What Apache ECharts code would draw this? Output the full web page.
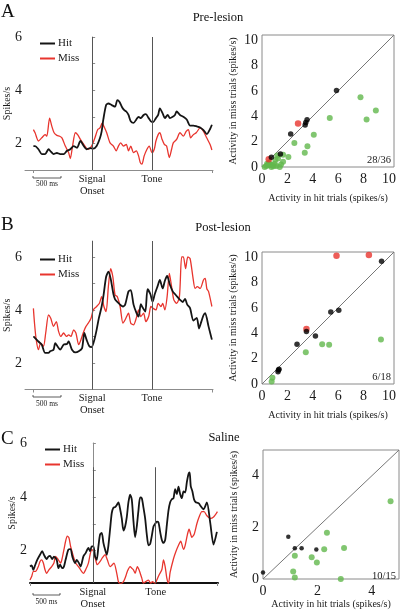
<!DOCTYPE html>
<html><head><meta charset="utf-8">
<script src="https://cdn.jsdelivr.net/npm/echarts@6/dist/echarts.min.js"></script>
<style>html,body{margin:0;padding:0;background:#fff}#c{width:400px;height:610px}</style>
</head><body><div id="c"></div>
<script>
// ---------- time-course data: [time (ms from signal onset), spikes/s] ----------
const aHit = [[-1050,1.9],[-1020,1.9],[-960,1.78],[-900,1.6],[-840,1.6],[-780,1.78],[-750,1.72],[-690,1.6],[-630,1.64],[-570,1.6],[-510,1.6],[-450,1.72],[-390,1.78],[-330,1.9],[-270,1.84],[-210,2.09],[-150,1.9],[-100,1.78],[-40,1.82],[20,1.8],[80,1.9],[140,2.2],[170,2.45],[200,2.9],[250,3.44],[290,3.5],[350,3.44],[410,3.38],[450,3.63],[490,3.56],[530,3.38],[570,3.26],[610,3.2],[650,3.07],[690,2.83],[740,2.77],[790,2.9],[830,3.0],[870,2.95],[920,3.07],[960,3.1],[1010,2.95],[1050,2.83],[1090,2.8],[1140,2.95],[1180,3.07],[1210,3.32],[1260,3.13],[1300,2.95],[1350,3.07],[1390,2.95],[1440,3.0],[1480,3.07],[1510,3.2],[1570,3.07],[1630,3.0],[1690,2.9],[1750,2.67],[1810,2.67],[1870,2.64],[1930,2.6],[1990,2.5],[2050,2.35],[2110,2.55],[2140,2.7]];
const aMiss = [[-1050,2.52],[-1020,2.4],[-960,2.09],[-900,2.21],[-840,2.33],[-810,2.27],[-760,2.95],[-720,2.64],[-680,2.4],[-630,2.3],[-580,2.27],[-540,2.21],[-480,1.9],[-420,1.65],[-390,1.43],[-350,1.9],[-300,2.4],[-260,2.33],[-210,2.15],[-150,1.96],[-110,1.84],[-70,1.78],[-10,1.9],[50,2.21],[100,2.52],[140,2.58],[180,2.77],[210,2.64],[260,2.4],[320,2.02],[380,1.9],[430,1.72],[470,1.9],[510,2.02],[560,1.9],[610,1.96],[650,1.72],[690,1.9],[740,1.65],[790,1.72],[830,1.53],[860,1.28],[890,1.22],[930,1.53],[980,1.78],[1020,1.9],[1070,1.65],[1110,1.78],[1140,2.09],[1180,2.33],[1210,2.4],[1250,2.15],[1290,1.96],[1330,1.9],[1380,1.47],[1420,1.78],[1450,2.02],[1510,2.15],[1570,2.4],[1630,2.27],[1680,2.45],[1720,2.52],[1760,2.21],[1810,2.33],[1860,2.4],[1930,2.58],[1990,2.45],[2050,2.2],[2110,1.95],[2140,1.75]];

const bHit = [[-1050,3.0],[-1020,2.94],[-960,2.81],[-900,2.69],[-840,2.38],[-780,2.38],[-750,2.44],[-690,2.5],[-660,2.75],[-620,2.63],[-570,2.5],[-510,2.69],[-450,2.72],[-420,2.81],[-360,2.5],[-300,2.4],[-240,2.44],[-180,2.56],[-140,3.13],[-100,2.88],[-50,2.63],[-10,2.6],[40,2.88],[80,3.25],[120,3.69],[170,4.13],[200,4.5],[250,5.25],[290,5.44],[330,5.19],[380,4.6],[410,4.4],[450,4.3],[500,4.2],[550,4.13],[590,4.2],[650,4.7],[690,4.75],[740,4.2],[790,3.9],[830,3.75],[870,4.22],[900,4.1],[950,3.94],[990,4.78],[1040,4.6],[1080,4.31],[1120,4.6],[1170,4.9],[1210,5.13],[1260,4.81],[1300,5.1],[1340,5.28],[1390,4.95],[1440,4.7],[1480,4.6],[1520,4.5],[1570,4.38],[1620,4.3],[1660,4.42],[1700,4.2],[1750,4.07],[1810,3.6],[1870,3.7],[1910,3.3],[1950,3.55],[1990,3.8],[2020,3.88],[2080,3.38],[2140,2.88]];
const bMiss = [[-1050,4.06],[-1030,3.5],[-1000,2.88],[-960,2.5],[-920,2.75],[-870,2.63],[-830,3.13],[-780,3.81],[-740,3.69],[-690,3.38],[-640,3.56],[-600,3.19],[-560,3.0],[-510,3.13],[-460,3.0],[-420,3.06],[-380,3.0],[-330,3.25],[-290,3.13],[-240,2.69],[-200,2.88],[-150,3.19],[-110,3.38],[-70,3.5],[-20,3.69],[20,4.0],[80,4.13],[130,4.25],[170,4.5],[210,4.13],[250,3.94],[290,4.88],[330,5.56],[370,5.25],[410,4.56],[450,4.5],[500,4.13],[550,3.5],[590,3.63],[650,3.88],[690,3.5],[740,3.44],[790,3.7],[830,4.0],[870,3.75],[920,3.88],[960,3.56],[1010,3.75],[1050,4.13],[1090,4.06],[1140,4.0],[1180,4.25],[1230,4.13],[1260,4.25],[1300,4.0],[1340,4.5],[1380,5.38],[1420,4.88],[1460,4.38],[1510,4.25],[1560,4.5],[1600,6.0],[1630,6.0],[1670,5.56],[1710,6.0],[1750,5.94],[1800,5.25],[1840,4.81],[1880,4.88],[1930,4.81],[1990,5.13],[2020,5.19],[2050,4.8],[2080,4.7],[2140,4.13]];

const cHit = [[-1130,1.41],[-1100,1.45],[-1070,1.29],[-1040,1.45],[-1000,1.66],[-950,1.85],[-910,1.98],[-880,1.85],[-830,1.69],[-800,1.78],[-770,1.81],[-730,1.69],[-700,1.78],[-650,1.66],[-620,1.35],[-590,1.48],[-550,1.35],[-520,1.41],[-490,1.66],[-440,2.04],[-400,2.06],[-370,1.79],[-320,1.54],[-290,1.66],[-250,1.54],[-220,1.41],[-170,1.79],[-130,1.91],[-80,2.1],[-50,1.98],[-20,2.16],[10,2.16],[40,1.79],[70,1.66],[100,2.16],[130,2.6],[160,2.66],[190,2.29],[220,2.04],[250,1.85],[280,2.2],[310,2.8],[340,3.4],[370,3.6],[400,3.62],[430,3.7],[460,3.79],[490,3.55],[520,3.2],[550,2.75],[580,2.9],[610,3.25],[640,3.8],[670,4.08],[700,3.9],[730,3.1],[760,2.5],[790,2.9],[820,3.5],[850,3.98],[880,3.95],[910,3.6],[940,3.2],[970,2.6],[1000,2.2],[1030,2.25],[1060,2.55],[1090,2.9],[1120,3.0],[1150,3.08],[1180,3.05],[1210,2.7],[1240,2.4],[1270,2.29],[1300,2.4],[1330,2.95],[1360,3.5],[1390,3.8],[1420,3.91],[1450,3.95],[1480,4.29],[1510,4.1],[1540,4.38],[1570,4.1],[1600,3.95],[1630,4.2],[1660,4.16],[1690,4.55],[1720,4.85],[1740,4.91],[1760,4.4],[1790,4.2],[1820,3.9],[1850,3.8],[1880,3.78],[1910,3.75],[1930,3.68],[1990,3.54],[2050,3.79],[2110,3.04],[2170,2.23],[2230,2.7]];
const cMiss = [[-1130,0.91],[-1100,1.04],[-1070,1.23],[-1030,1.23],[-980,1.41],[-950,1.6],[-920,1.66],[-890,1.54],[-860,1.29],[-830,1.16],[-790,1.29],[-740,1.41],[-700,1.54],[-670,1.79],[-620,1.66],[-580,1.54],[-550,1.73],[-520,2.04],[-490,2.35],[-460,2.54],[-430,2.48],[-400,2.16],[-350,1.79],[-310,1.54],[-260,1.41],[-220,1.29],[-170,1.16],[-130,1.29],[-80,1.54],[-50,1.85],[-20,2.04],[10,1.98],[50,1.66],[80,1.48],[130,1.6],[170,1.73],[220,1.85],[260,1.66],[310,1.41],[350,1.48],[380,1.54],[430,1.16],[460,0.85],[500,0.78],[550,0.85],[590,1.04],[620,1.23],[670,1.41],[700,1.35],[730,1.29],[760,1.16],[800,1.41],[830,1.29],[880,0.98],[910,0.79],[950,0.85],[1000,0.91],[1040,0.79],[1070,0.85],[1120,0.79],[1150,0.91],[1190,1.1],[1240,1.29],[1270,1.66],[1300,1.41],[1330,0.98],[1360,0.79],[1390,1.2],[1450,1.7],[1490,1.95],[1540,2.2],[1580,2.35],[1630,2.05],[1660,2.2],[1700,2.6],[1730,2.8],[1780,2.5],[1820,2.6],[1870,3.0],[1910,3.25],[1960,3.45],[2000,3.45],[2050,3.3],[2110,3.2],[2170,3.25],[2240,3.45]];

// event times (ms from signal onset)
const toneAB = 1070;
const toneC = 1130;

// ---------- scatter data: [activity in hit trials, activity in miss trials] ----------
const aBlack = [[5.87,6.02],[3.55,3.72],[3.45,3.5],[3.4,3.3],[2.26,2.6],[1.45,1.02],[0.74,0.76]];
const aRed = [[2.84,3.42],[0.53,0.62]];
const aGreen = [[7.76,5.5],[8.97,4.45],[8.24,3.74],[5.34,3.87],[4.08,2.55],[3.58,1.63],[3.37,1.13],[2.55,1.9],[2.08,0.79],[1.66,0.97],[1.66,0.42],[1.26,0.66],[1.13,0.08],[1.4,0.0],[0.74,0.0],[0.47,0.13],[0.21,0.0],[1.0,0.26],[0.6,0.2],[0.34,0.08],[0.9,0.05],[1.2,0.9],[0.55,0.35],[0.8,0.15],[1.5,0.2],[0.4,0.25],[1.05,0.55]];
const bBlack = [[9.42,9.68],[6.05,5.82],[5.42,5.68],[4.21,3.79],[3.5,4.13],[2.76,3.13],[1.34,1.16],[1.26,0.97],[1.3,1.1]];
const bRed = [[5.87,10.1],[8.42,10.16],[3.5,4.34]];
const bGreen = [[3.45,2.5],[4.74,3.13],[5.29,3.1],[9.37,3.5],[0.82,0.5],[0.76,0.2]];
const cBlack = [[0,0.25],[0.93,1.64],[1.17,1.19],[1.42,1.19],[1.96,1.14]];
const cRed = [];
const cGreen = [[4.69,3.01],[2.35,1.79],[2.98,1.2],[2.25,1.15],[1.79,0.84],[1.98,0.64],[1.17,0.9],[1.11,0.29],[1.17,0.06],[2.86,0]];

const counts = ['28/36','6/18','10/15'];
const titles = ['Pre-lesion','Post-lesion','Saline'];
const letters = ['A','B','C'];
const scatterMax = [10.4, 10.4, 5];
const scatterTicks = [[0,2,4,6,8,10],[0,2,4,6,8,10],[0,2,4]];

// ---------- layout ----------
const F = '"Liberation Serif","DejaVu Serif",serif';
const TXT = '#1a1a1a';
const BLACK = '#151515', RED = '#e8352e', GREEN = '#62b84c';

const leftGrids = [
  {left:25, top:37, width:188, height:133, xmin:-1200, xmax:2160, ymin:1, ymax:6, tone:toneAB, hit:aHit, miss:aMiss},
  {left:25, top:241, width:188, height:148.5, xmin:-1200, xmax:2160, ymin:1, ymax:6.6, tone:toneAB, hit:bHit, miss:bMiss},
  {left:30, top:443, width:188, height:140, xmin:-1130, xmax:2250, ymin:0.8, ymax:6, tone:toneC, hit:cHit, miss:cMiss, partial:5.1}
];
const rightGrids = [
  {left:262, top:35, width:132, height:132},
  {left:262, top:252, width:132, height:132},
  {left:263, top:450, width:136, height:133}
];
const scat = [[aBlack,aRed,aGreen],[bBlack,bRed,bGreen],[cBlack,cRed,cGreen]];

const grid = [], xAxis = [], yAxis = [], series = [], legend = [], title = [], graphic = [];

leftGrids.forEach((g, i) => {
  const gi = grid.length;
  grid.push({left:g.left, top:g.top, width:g.width, height:g.height});
  const last = i === 2;
  xAxis.push({gridIndex:gi, type:'value', min:g.xmin, max:g.xmax,
    axisLine:{show:true, lineStyle:{color: last ? '#111' : '#8c8c8c', width: last ? 2 : 1}},
    axisTick:{show:true, customValues:[g.hit[0][0], g.hit[g.hit.length-1][0]], length:3, lineStyle:{color:'#8c8c8c'}},
    axisLabel:{show:false}, splitLine:{show:false}});
  const tickVals = [2,3,4,5,6];
  yAxis.push({gridIndex:gi, type:'value', min:g.ymin, max:g.ymax,
    axisLine:{show:true, lineStyle:{color:'#8c8c8c'}},
    axisTick:{show:true, inside:true, length:3, customValues:tickVals, lineStyle:{color:'#8c8c8c'}},
    axisLabel:{customValues:[2,4,6], fontSize:14, fontFamily:F, color:TXT, margin:3},
    splitLine:{show:false},
    name:'Spikes/s', nameLocation:'middle', nameGap:13, nameMoveOverlap:false,
    nameTextStyle:{fontSize:10, fontFamily:F, color:TXT}});
  const lbl = (t) => ({show:true, position:'start', formatter:t, fontSize:10.5, fontFamily:F, color:TXT, lineHeight:12, distance:3});
  let mlData;
  if (g.partial) {
    mlData = [
      [{coord:[0, g.ymin], label:lbl('Signal\nOnset')}, {coord:[0, g.partial]}],
      [{coord:[g.tone, g.ymin], label:lbl('Tone')}, {coord:[g.tone, g.partial]}]
    ];
  } else {
    mlData = [{xAxis:0, label:lbl('Signal\nOnset')}, {xAxis:g.tone, label:lbl('Tone')}];
  }
  series.push({type:'line', name:'Miss', xAxisIndex:gi, yAxisIndex:gi, data:g.miss,
    symbol:'none', smooth:0.25, lineStyle:{color:RED, width:1.3}, itemStyle:{color:RED}, z:2});
  series.push({type:'line', name:'Hit', xAxisIndex:gi, yAxisIndex:gi, data:g.hit,
    symbol:'none', smooth:0.25, lineStyle:{color:BLACK, width:1.8}, itemStyle:{color:BLACK}, z:3,
    markLine:{silent:true, symbol:['none','none'], animation:false,
      lineStyle:{color:'#555', width:1, type:'solid'}, data:mlData}});
  legend.push({data:['Hit','Miss'], orient:'vertical', left: g.left + 10, top: [33, 249, 439][i],
    icon:'rect', itemWidth:15, itemHeight:2, itemGap:4, selectedMode:false,
    textStyle:{fontSize:11, fontFamily:F, color:TXT, padding:[0,0,0,-2]}});
});

rightGrids.forEach((g, i) => {
  const gi = grid.length;
  grid.push({left:g.left, top:g.top, width:g.width, height:g.height, show:true, borderColor:'#8a8a8a', borderWidth:1, backgroundColor:'transparent'});
  const mx = scatterMax[i];
  xAxis.push({gridIndex:gi, type:'value', min:0, max:mx,
    axisLine:{show:false}, axisTick:{show:false}, splitLine:{show:false},
    axisLabel:{customValues:scatterTicks[i], fontSize:14, fontFamily:F, color:TXT, margin:5},
    name:'Activity in hit trials (spikes/s)', nameLocation:'middle', nameGap: i === 2 ? 20 : 26,
    nameTextStyle:{fontSize:10, fontFamily:F, color:TXT}});
  yAxis.push({gridIndex:gi, type:'value', min:0, max:mx,
    axisLine:{show:false}, axisTick:{show:false}, splitLine:{show:false},
    axisLabel:{customValues:scatterTicks[i], fontSize:14, fontFamily:F, color:TXT, margin:4},
    name:'Activity in miss trials (spikes/s)', nameLocation:'middle', nameGap:24,
    nameTextStyle:{fontSize:10, fontFamily:F, color:TXT}});
  series.push({type:'line', xAxisIndex:gi, yAxisIndex:gi, data:[[0,0],[mx,mx]], symbol:'none',
    lineStyle:{color:'#777', width:1}, silent:true, z:1});
  const [bk, rd, gr] = scat[i];
  series.push({type:'scatter', xAxisIndex:gi, yAxisIndex:gi, data:gr, symbolSize:6, itemStyle:{color:GREEN}, z:3, clip:false});
  series.push({type:'scatter', xAxisIndex:gi, yAxisIndex:gi, data:rd, symbolSize:6.5, itemStyle:{color:RED}, z:4, clip:false});
  series.push({type:'scatter', xAxisIndex:gi, yAxisIndex:gi, data:bk, symbolSize: i === 2 ? 4.5 : 5.5, itemStyle:{color:'#000'}, z:5, clip:false});
  graphic.push({type:'text', x: g.left + g.width - 3, y: g.top + g.height - 7,
    style:{text:counts[i], align:'right', verticalAlign:'middle', fontSize:10.5, fontFamily:F, fill:TXT}, z:10});
});

// panel letters and titles
const letterTops = [3, 216, 430];
const titleCenters = [[218,11],[223,221],[224,431]];
letters.forEach((l, i) => {
  title.push({text:l, left:1, top:letterTops[i], padding:0, textStyle:{fontSize:19, fontFamily:F, fontWeight:'normal', color:'#111'}});
  title.push({text:titles[i], left:titleCenters[i][0], top:titleCenters[i][1], textAlign:'center', padding:0,
    textStyle:{fontSize:12.5, fontFamily:F, fontWeight:'normal', color:'#111'}});
});

// 500 ms scale bars
const bars = [[33,61,178,184.5],[33,61,397,404],[33,60,595,602]];
bars.forEach(b => {
  graphic.push({type:'polyline', shape:{points:[[b[0],b[2]-2],[b[0],b[2]],[b[1],b[2]],[b[1],b[2]-2]]}, style:{stroke:'#333', lineWidth:0.8, fill:null}});
  graphic.push({type:'text', x:(b[0]+b[1])/2, y:b[3], style:{text:'500 ms', align:'center', verticalAlign:'middle', fontSize:7.5, fontFamily:F, fill:TXT}});
});

const chart = echarts.init(document.getElementById('c'), null, {renderer:'canvas'});
chart.setOption({animation:false, backgroundColor:'#fff', title, legend, grid, xAxis, yAxis, series, graphic});
</script></body></html>
